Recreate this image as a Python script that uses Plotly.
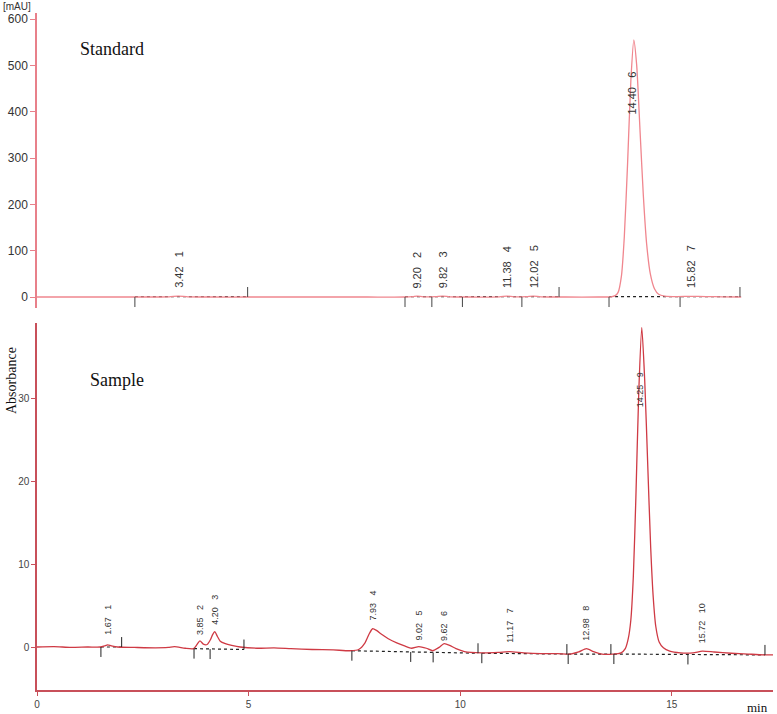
import plotly.graph_objects as go

# ---------------- data ----------------
# Standard chromatogram (top), time in min, signal in mAU
top_t = [0.0, 1.0, 2.0, 2.4, 3.2, 3.42, 3.65, 4.2, 5.1, 6.5, 8.0, 8.9, 9.1, 9.2, 9.35, 9.65,
         9.82, 10.0, 10.5, 11.2, 11.38, 11.55, 11.85, 12.02, 12.2, 12.8, 13.6, 13.9, 14.0,
         14.07, 14.15, 14.22, 14.3, 14.38, 14.45, 14.52, 14.6, 14.68, 14.76, 14.85, 14.95,
         15.05, 15.2, 15.5, 15.82, 16.2, 16.6, 17.05]
top_v = [0, 0, 0, 0, 0.5, 2, 0.5, 0, 0, 0, 0, 0, 1, 2, 0.5, 1,
         2, 0.5, 0, 0.5, 2, 0.5, 1, 2, 0.5, 0, 0, 0.5, 3,
         10, 45, 130, 290, 470, 555, 500, 360, 220, 115, 50, 18,
         6, 2, 1, 1.5, 1, 0.5, 0]

top_peak_rt = [3.42, 9.20, 9.82, 11.38, 12.02, 14.40, 15.82]
top_peak_id = ["1", "2", "3", "4", "5", "6", "7"]
top_label_y = [15, 15, 15, 15, 15, 390, 15]

top_base_down = [2.37, 8.91, 9.56, 10.30, 11.74, 13.85, 15.57]
top_base_up = [5.10, 12.64, 17.02]
top_seg_start = [2.37, 8.91, 13.85]
top_seg_end = [5.10, 12.64, 17.02]

# Sample chromatogram (bottom), time in min, absorbance
bot_t = [0.0, 0.4, 0.8, 1.2, 1.5, 1.6, 1.67, 1.75, 1.9, 2.3, 2.8, 3.1, 3.25, 3.5, 3.7, 3.78,
         3.85, 3.93, 4.02, 4.1, 4.15, 4.2, 4.26, 4.33, 4.45, 4.6, 4.8, 5.2, 5.6, 6.0, 6.5,
         7.0, 7.4, 7.6, 7.75, 7.85, 7.93, 8.02, 8.15, 8.3, 8.5, 8.7, 8.85, 9.02, 9.2, 9.35,
         9.5, 9.62, 9.75, 9.9, 10.1, 10.5, 10.9, 11.17, 11.5, 11.9, 12.3, 12.6, 12.8, 12.98,
         13.15, 13.35, 13.6, 13.8, 13.9, 13.97, 14.03, 14.09, 14.15, 14.22, 14.29, 14.36,
         14.43, 14.5, 14.56, 14.62, 14.7, 14.8, 14.95, 15.2, 15.5, 15.72, 16.0, 16.4, 16.8,
         17.2, 17.39]
bot_v = [0.0, 0.05, -0.05, 0.0, 0.0, 0.15, 0.25, 0.15, 0.0, -0.05, -0.1, -0.05, 0.05, -0.15,
         -0.2, 0.3, 0.75, 0.35, 0.3, 0.9, 1.5, 1.85, 1.3, 0.7, 0.4, 0.2, 0.0, -0.15, -0.1,
         -0.2, -0.3, -0.35, -0.45, -0.3, 0.5, 1.6, 2.2, 2.0, 1.5, 1.0, 0.5, 0.1, -0.15, 0.05,
         -0.15, -0.45, -0.05, 0.4, 0.2, -0.2, -0.55, -0.7, -0.65, -0.55, -0.7, -0.8, -0.8,
         -0.85, -0.6, -0.2, -0.55, -0.85, -0.85, -0.7, -0.2, 1.0, 3.2, 8.5, 18.0, 31.0, 38.5,
         32.0, 22.0, 12.0, 6.0, 2.5, 0.6, -0.1, -0.5, -0.7, -0.7, -0.5, -0.6, -0.75, -0.85,
         -0.95, -0.95]

bot_peak_rt = [1.67, 3.85, 4.20, 7.93, 9.02, 9.62, 11.17, 12.98, 14.25, 15.72]
bot_peak_id = ["1", "2", "3", "4", "5", "6", "7", "8", "9", "10"]
bot_label_y = [1.2, 1.2, 2.4, 2.9, 0.5, 0.5, 0.25, 0.5, 28.6, 0.25]

bot_base_down = [1.51, 3.71, 4.09, 7.44, 8.83, 9.36, 10.51, 12.55, 13.63, 15.38]
bot_base_down_y = [0.0, -0.2, -0.25, -0.45, -0.6, -0.65, -0.75, -0.85, -0.85, -0.9]
bot_base_up = [2.0, 4.89, 10.42, 12.52, 13.56, 17.2]
bot_base_up_y = [0.0, -0.3, -0.75, -0.85, -0.85, -0.95]
bot_seg_start = [1.51, 3.71, 7.44, 10.51, 12.55, 13.63]
bot_seg_start_y = [0.0, -0.2, -0.45, -0.75, -0.85, -0.85]
bot_seg_end = [2.0, 4.89, 10.42, 12.52, 13.56, 17.2]
bot_seg_end_y = [0.0, -0.3, -0.75, -0.85, -0.85, -0.95]

top_yticks = [0, 100, 200, 300, 400, 500, 600]
bot_yticks = [0, 10, 20, 30]
bot_xticks = [0, 5, 10, 15]

# ---------------- styles ----------------
TOP_COL = "#f0868e"
TOP_AX = "#e8808a"
BOT_COL = "#cf3a44"
BOT_AX = "#c8505a"
TXT = "#333333"
SANS = "Liberation Sans, DejaVu Sans, sans-serif"
SERIF = "Liberation Serif, serif"
TOP_TICK_LEN = 21.6
BOT_TICK_LEN = 1.2

fig = go.Figure()

def seg_xy(xs0, xs1, ys0, ys1):
    X, Y = [], []
    for a, b, c, d in zip(xs0, xs1, ys0, ys1):
        X += [a, b, None]
        Y += [c, d, None]
    return X, Y

def tick_xy(xs, ys, length):
    X, Y = [], []
    for a, c in zip(xs, ys):
        X += [a, a, None]
        Y += [c, c + length, None]
    return X, Y

# baselines (dotted)
X, Y = seg_xy(top_seg_start, top_seg_end, [1] * len(top_seg_start), [1] * len(top_seg_end))
fig.add_trace(go.Scatter(x=X, y=Y, mode="lines", xaxis="x", yaxis="y",
                         line=dict(color="#222", width=1.2, dash="dot"), hoverinfo="skip"))
X, Y = seg_xy(bot_seg_start, bot_seg_end, bot_seg_start_y, bot_seg_end_y)
fig.add_trace(go.Scatter(x=X, y=Y, mode="lines", xaxis="x2", yaxis="y2",
                         line=dict(color="#222", width=1.2, dash="dot"), hoverinfo="skip"))

# chromatograms
fig.add_trace(go.Scatter(x=top_t, y=top_v, mode="lines", xaxis="x", yaxis="y",
                         line=dict(color=TOP_COL, width=1.3, shape="spline", smoothing=0.6)))
fig.add_trace(go.Scatter(x=bot_t, y=bot_v, mode="lines", xaxis="x2", yaxis="y2",
                         line=dict(color=BOT_COL, width=1.3, shape="spline", smoothing=0.6)))

# integration tick marks
X1, Y1 = tick_xy(top_base_down, [0] * len(top_base_down), -TOP_TICK_LEN)
X2, Y2 = tick_xy(top_base_up, [0] * len(top_base_up), TOP_TICK_LEN)
fig.add_trace(go.Scatter(x=X1 + X2, y=Y1 + Y2, mode="lines", xaxis="x", yaxis="y",
                         line=dict(color="#444", width=1), hoverinfo="skip"))
X1, Y1 = tick_xy(bot_base_down, bot_base_down_y, -BOT_TICK_LEN)
X2, Y2 = tick_xy(bot_base_up, bot_base_up_y, BOT_TICK_LEN)
fig.add_trace(go.Scatter(x=X1 + X2, y=Y1 + Y2, mode="lines", xaxis="x2", yaxis="y2",
                         line=dict(color="#222", width=1), hoverinfo="skip"))

ann = []
gap = "\u00a0\u00a0\u00a0"
for rt, pid, ly in zip(top_peak_rt, top_peak_id, top_label_y):
    ann.append(dict(x=rt, y=ly, xref="x", yref="y", text=f"{rt:.2f}{gap}{pid}",
                    textangle=-90, showarrow=False, xanchor="center", yanchor="bottom",
                    font=dict(family=SANS, size=11, color=TXT)))
for rt, pid, ly in zip(bot_peak_rt, bot_peak_id, bot_label_y):
    ann.append(dict(x=rt, y=ly, xref="x2", yref="y2", text=f"{rt:.2f}{gap}{pid}",
                    textangle=-90, showarrow=False, xanchor="center", yanchor="bottom",
                    font=dict(family=SANS, size=9, color=TXT)))

W, H = 777, 714

def px(x, y):
    return x / W, 1 - y / H

x0, y0 = px(17, 7)
ann.append(dict(x=x0, y=y0, xref="paper", yref="paper", text="[mAU]", showarrow=False,
                xanchor="center", yanchor="middle", font=dict(family=SANS, size=10, color=TXT)))
x0, y0 = px(112, 49)
ann.append(dict(x=x0, y=y0, xref="paper", yref="paper", text="Standard", showarrow=False,
                xanchor="center", yanchor="middle", font=dict(family=SERIF, size=18, color="#111")))
x0, y0 = px(117, 380)
ann.append(dict(x=x0, y=y0, xref="paper", yref="paper", text="Sample", showarrow=False,
                xanchor="center", yanchor="middle", font=dict(family=SERIF, size=18, color="#111")))
x0, y0 = px(11, 381)
ann.append(dict(x=x0, y=y0, xref="paper", yref="paper", text="Absorbance", showarrow=False,
                textangle=-90, xanchor="center", yanchor="middle",
                font=dict(family=SERIF, size=14, color="#111")))
x0, y0 = px(757, 707)
ann.append(dict(x=x0, y=y0, xref="paper", yref="paper", text="min", showarrow=False,
                xanchor="center", yanchor="middle", font=dict(family=SERIF, size=13, color="#111")))

xd0, _ = px(37, 0)
xd1, _ = px(773, 0)
xdom = [xd0, xd1]
_, top_lo = px(0, 308)
_, top_hi = px(0, 13)
_, bot_lo = px(0, 690)
_, bot_hi = px(0, 323)

fig.update_layout(
    width=W, height=H, autosize=False,
    margin=dict(l=0, r=0, t=0, b=0),
    paper_bgcolor="white", plot_bgcolor="white",
    showlegend=False,
    xaxis=dict(domain=xdom, range=[0, 17.82], anchor="y", visible=False, automargin=False),
    yaxis=dict(domain=[top_lo, top_hi], range=[-23.7, 613], anchor="x",
               automargin=False,
               showline=True, linecolor=TOP_AX, linewidth=1.5, ticks="outside", ticklen=5,
               tickcolor=TOP_AX, tickvals=top_yticks, showgrid=False, zeroline=False,
               tickfont=dict(family=SANS, size=12, color=TXT)),
    xaxis2=dict(domain=xdom, range=[0, 17.39], anchor="y2", automargin=False,
                showline=True, linecolor=BOT_AX, linewidth=1.5, ticks="outside", ticklen=4,
                tickcolor=BOT_AX, tickvals=bot_xticks, showgrid=False, zeroline=False,
                tickfont=dict(family=SANS, size=10, color="#444")),
    yaxis2=dict(domain=[bot_lo, bot_hi], range=[-5.18, 39.04], anchor="x2",
                automargin=False,
                showline=True, linecolor=BOT_AX, linewidth=1.5, ticks="outside", ticklen=4,
                tickcolor=BOT_AX, tickvals=bot_yticks, showgrid=False, zeroline=False,
                tickfont=dict(family=SANS, size=10, color="#444")),
    annotations=ann,
)

# remove the default 8 px page margin so the figure fills the window exactly
fig.write_html("out.html",
               config={"displayModeBar": False},
               post_script="document.body.style.margin='0';document.body.style.overflow='hidden';")
